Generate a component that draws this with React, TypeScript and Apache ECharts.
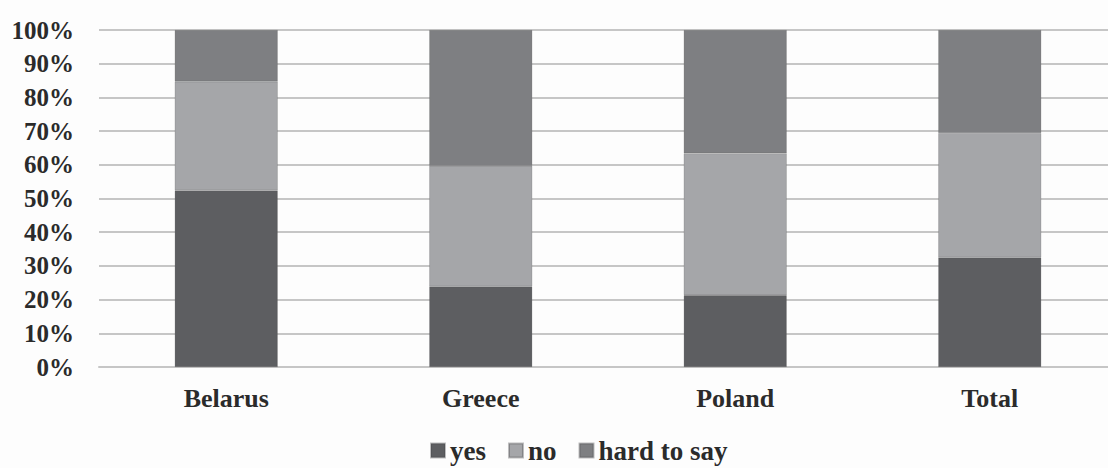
import React, { useEffect, useRef } from "react";
import * as echarts from "echarts";

const categories = ["Belarus", "Greece", "Poland", "Total"];
const yesValues = [52.4, 23.9, 21.3, 32.5];
const noValues = [32.3, 35.8, 42.1, 36.9];
const hardToSayValues = [15.3, 40.3, 36.6, 30.6];
const yTicks = [0, 10, 20, 30, 40, 50, 60, 70, 80, 90, 100];

const FONT = "Liberation Serif";
const TEXT_COLOR = "#2b2b2b";

export default function App() {
  const ref = useRef<HTMLDivElement>(null);

  useEffect(() => {
    document.body.style.margin = "0";
    if (!ref.current) return;
    const chart = echarts.init(ref.current, undefined, { renderer: "svg" });

    const barSeries = (name: string, data: number[], color: string) => ({
      name,
      type: "bar" as const,
      stack: "share",
      data,
      barWidth: 103,
      itemStyle: { color, borderColor: "rgba(70,70,72,0.35)", borderWidth: 0.6 },
      emphasis: { disabled: true },
    });

    chart.setOption({
      animation: false,
      backgroundColor: "#fdfdfd",
      textStyle: { fontFamily: FONT },
      grid: { left: 99, right: 1, top: 30, bottom: 101, containLabel: false },
      legend: {
        bottom: -1,
        left: 425,
        itemWidth: 14,
        itemHeight: 14,
        itemGap: 22,
        icon: "rect",
        formatter: (name: string) => `{t|${name}}`,
        textStyle: {
          fontFamily: FONT,
          fontWeight: "bold",
          fontSize: 27,
          color: TEXT_COLOR,
          rich: {
            t: {
              fontFamily: FONT,
              fontWeight: "bold",
              fontSize: 27,
              color: TEXT_COLOR,
            },
          },
        },
        data: ["yes", "no", "hard to say"],
      },
      xAxis: {
        type: "category",
        data: categories,
        axisLine: { show: true, lineStyle: { color: "#c6c6c6", width: 2 } },
        axisTick: { show: false },
        axisLabel: {
          fontFamily: FONT,
          fontWeight: "bold",
          fontSize: 26,
          color: TEXT_COLOR,
          margin: 18,
        },
      },
      yAxis: {
        type: "value",
        min: yTicks[0],
        max: yTicks[yTicks.length - 1],
        interval: 10,
        axisLine: { show: false },
        axisTick: { show: false },
        splitLine: { lineStyle: { color: "#c6c6c6", width: 2 } },
        axisLabel: {
          fontFamily: FONT,
          fontWeight: "bold",
          fontSize: 25,
          color: TEXT_COLOR,
          margin: 25,
          formatter: (v: number) => `${v}%`,
        },
      },
      series: [
        barSeries("yes", yesValues, "#5d5e61"),
        barSeries("no", noValues, "#a5a6a9"),
        barSeries("hard to say", hardToSayValues, "#7e7f82"),
      ],
    });

    return () => chart.dispose();
  }, []);

  return (
    <div style={{ width: 1108, height: 468, overflow: "hidden", position: "relative" }}>
      <div ref={ref} style={{ width: 1118, height: 468 }} />
    </div>
  );
}
